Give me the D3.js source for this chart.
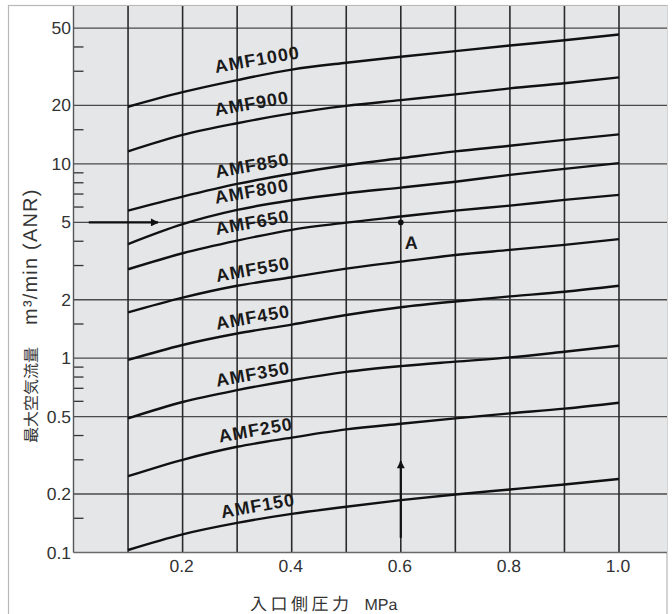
<!DOCTYPE html>
<html><head><meta charset="utf-8">
<script src="https://cdn.jsdelivr.net/npm/d3@7"></script>
<style>body{margin:0;background:#fff}svg{display:block}text{text-rendering:geometricPrecision}</style>
</head><body><svg id="c" width="672" height="614"></svg>
<script>
// ---- data ----
const pressures = [0.1,0.2,0.3,0.4,0.5,0.6,0.7,0.8,0.9,1.0];
const seriesNames = ["AMF1000","AMF900","AMF850","AMF800","AMF650","AMF550","AMF450","AMF350","AMF250","AMF150"];
const amf1000 = [19.7,23.4,27,30.6,33.2,35.6,38.1,40.7,43.3,46.4];
const amf900  = [11.6,14.1,16.2,18.2,19.9,21.3,22.8,24.5,26,27.9];
const amf850  = [5.75,6.79,7.89,8.9,9.85,10.7,11.6,12.4,13.3,14.2];
const amf800  = [3.87,4.9,5.8,6.5,7.07,7.55,8.1,8.78,9.43,10.1];
const amf650  = [2.87,3.47,4.03,4.58,4.99,5.36,5.75,6.1,6.53,6.93];
const amf550  = [1.72,2.05,2.36,2.61,2.89,3.14,3.4,3.61,3.83,4.1];
const amf450  = [0.98,1.17,1.34,1.49,1.67,1.83,1.96,2.08,2.2,2.36];
const amf350  = [0.49,0.595,0.685,0.77,0.85,0.91,0.96,1.01,1.08,1.16];
const amf250  = [0.247,0.30,0.35,0.39,0.43,0.46,0.49,0.52,0.55,0.59];
const amf150  = [0.103,0.124,0.142,0.158,0.172,0.186,0.199,0.211,0.224,0.239];
const seriesValues = [amf1000,amf900,amf850,amf800,amf650,amf550,amf450,amf350,amf250,amf150];
// label anchor (data units)
const labelX = [0.261,0.261,0.262,0.261,0.262,0.263,0.263,0.263,0.268,0.272];
const labelY = [29.4,17.65,8.47,6.23,4.31,2.47,1.40,0.714,0.368,0.150];
const xGrid = [0.1,0.2,0.3,0.4,0.5,0.6,0.7,0.8,0.9,1.0];
const xTickLabels = [0.2,0.4,0.6,0.8,1.0];
const yTicks = [50,20,10,5,2,1,0.5,0.2,0.1];
const yMinor = [40,30,15,9,8,7,6,4,3,1.5,0.9,0.8,0.7,0.6,0.4,0.3,0.15];
const pointA = {p:0.6, q:5, label:"A"};
const hArrow = {q:5, from:0.028, to:0.155};
const vArrow = {p:0.6, from:0.119, to:0.295};
const yTitleJa = "最大空気流量";
const yTitleUnit = "m³/min (ANR)";
const xTitleJa = "入口側圧力";
const xTitleUnit = "MPa";

// ---- drawing ----
const svg = d3.select('#c');
const x = d3.scaleLinear().domain([0,1.088]).range([73.5,667]);
const y = d3.scaleLog().domain([0.1,65]).range([552.5,6]);
const [x0,x1] = x.range(), [yb,yt] = y.range();
const LAT = 'Liberation Sans, Arial, sans-serif';

svg.append('rect').attr('x',8.5).attr('y',5.5).attr('width',658.5).attr('height',640)
  .attr('fill','#fff').attr('stroke','#b8b8b8').attr('stroke-width',1.2);
svg.append('rect').attr('x',x0).attr('y',yt).attr('width',x1-x0).attr('height',yb-yt)
  .attr('fill','#e5e6e8');

const g = svg.append('g');
g.selectAll('.hg').data(yTicks.filter(d=>d!==0.1)).join('line')
  .attr('x1',x0).attr('x2',x1).attr('y1',d=>y(d)).attr('y2',d=>y(d))
  .attr('stroke','#4a4a4a').attr('stroke-width',1.3);
g.selectAll('.mt').data(yMinor).join('line')
  .attr('x1',x0).attr('x2',x0+10).attr('y1',d=>y(d)).attr('y2',d=>y(d))
  .attr('stroke','#333').attr('stroke-width',1.3);
g.selectAll('.vg').data(xGrid).join('line')
  .attr('x1',d=>x(d)).attr('x2',d=>x(d)).attr('y1',yt).attr('y2',yb)
  .attr('stroke','#2a2a2a').attr('stroke-width',1.6);
g.append('line').attr('x1',x0).attr('x2',x1).attr('y1',yb).attr('y2',yb).attr('stroke','#6a6a6a').attr('stroke-width',1.6);
g.append('line').attr('x1',x0).attr('x2',x0).attr('y1',yt).attr('y2',yb).attr('stroke','#555').attr('stroke-width',1.4);

const fmtY = d => d<1 ? d.toString() : d3.format('d')(d);
svg.selectAll('.yl').data(yTicks).join('text')
  .attr('x',71).attr('y',d=>y(d)+6).attr('text-anchor','end')
  .attr('font-family',LAT).attr('font-size',17.5)
  .attr('fill','#333').text(fmtY);
svg.selectAll('.xl').data(xTickLabels).join('text')
  .attr('x',d=>x(d)-1).attr('y',572).attr('text-anchor','middle')
  .attr('font-family',LAT).attr('font-size',17.5)
  .attr('fill','#333').text(d=>d3.format('.1f')(d));

const line = d3.line().x((d,i)=>x(pressures[i])).y(d=>y(d)).curve(d3.curveMonotoneX);
svg.selectAll('.curve').data(seriesValues).join('path')
  .attr('d',line).attr('fill','none').attr('stroke','#111').attr('stroke-width',2.4);

svg.selectAll('.lab').data(seriesNames).join('text')
  .attr('transform',(d,i)=>`translate(${x(labelX[i])},${y(labelY[i])}) rotate(-10)`)
  .attr('font-family',LAT).attr('font-weight','bold')
  .attr('font-size',18).style('letter-spacing','1px').attr('fill','#1a1a1a').text(d=>d);

const defs = svg.append('defs');
defs.append('marker').attr('id','ah').attr('viewBox','0 0 10 10').attr('refX',9).attr('refY',5)
  .attr('markerWidth',5).attr('markerHeight',3.6).attr('markerUnits','strokeWidth').attr('orient','auto')
  .append('path').attr('d','M0,0L10,5L0,10z').attr('fill','#111');
svg.append('line').attr('x1',x(hArrow.from)).attr('x2',x(hArrow.to)).attr('y1',y(hArrow.q)).attr('y2',y(hArrow.q))
  .attr('stroke','#111').attr('stroke-width',2.2).attr('marker-end','url(#ah)');
svg.append('line').attr('x1',x(vArrow.p)).attr('x2',x(vArrow.p)).attr('y1',y(vArrow.from)).attr('y2',y(vArrow.to))
  .attr('stroke','#111').attr('stroke-width',2.2).attr('marker-end','url(#ah)');

svg.append('circle').attr('cx',x(pointA.p)).attr('cy',y(pointA.q)).attr('r',2.8).attr('fill','#111');
svg.append('text').attr('x',x(pointA.p)+4).attr('y',y(pointA.q)+27)
  .attr('font-family',LAT).attr('font-weight','bold')
  .attr('font-size',18).attr('fill','#1a1a1a').text(pointA.label);

const yt1 = svg.append('text').attr('transform','translate(37,443) rotate(-90)')
  .attr('fill','#333').attr('font-family',LAT).attr('opacity',0.99);
yt1.append('tspan').attr('font-family','Noto Sans CJK JP').attr('fill','#333').attr('font-size',16).text(yTitleJa);
yt1.append('tspan').attr('dx',22).attr('fill','#333').attr('font-size',20).style('letter-spacing','1.2px').text(yTitleUnit);

const xt1 = svg.append('text').attr('x',250).attr('y',610).attr('fill','#333')
  .attr('font-family',LAT);
xt1.append('tspan').attr('font-family','Noto Sans CJK JP').attr('font-size',17).style('letter-spacing','3.5px').text(xTitleJa);
xt1.append('tspan').attr('dx',12).attr('font-size',16).style('letter-spacing','0px').text(xTitleUnit);
</script></body></html>
